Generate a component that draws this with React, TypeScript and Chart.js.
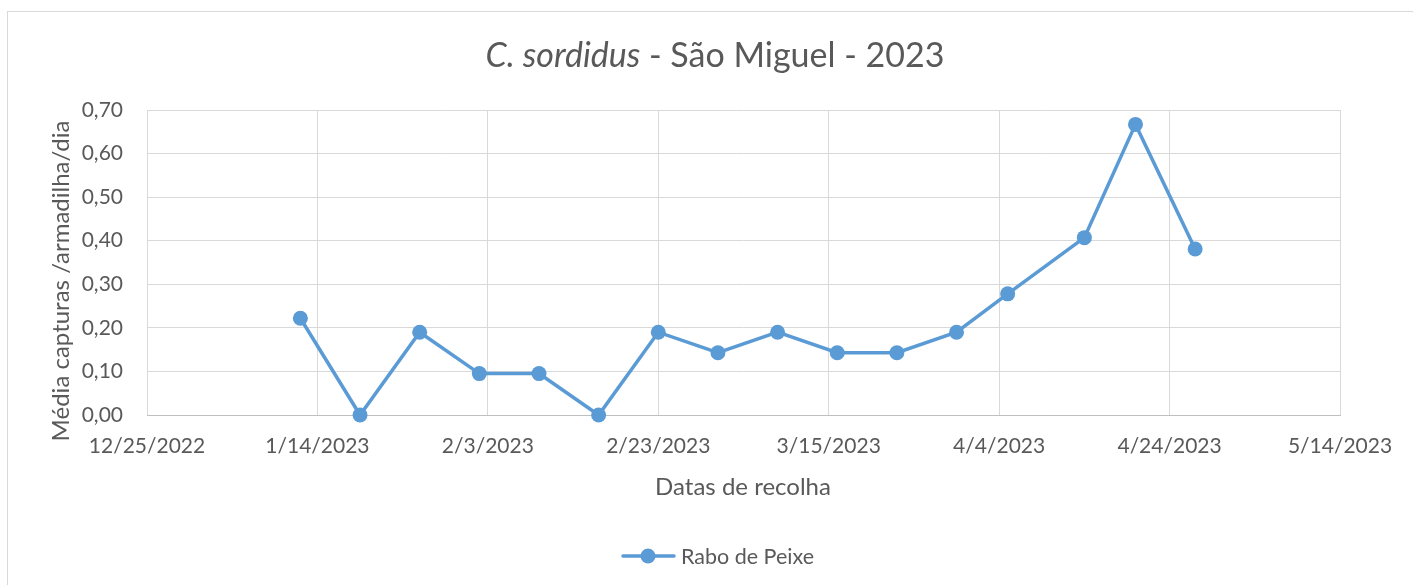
import React, { useEffect, useRef } from "react";
import { Chart, registerables } from "chart.js";

Chart.register(...registerables);

// ---- Data ----
const startDate = "2022-12-25";
const collectionDates = [
  "2023-01-12", "2023-01-19", "2023-01-26", "2023-02-02", "2023-02-09", "2023-02-16",
  "2023-02-23", "2023-03-02", "2023-03-09", "2023-03-16", "2023-03-23", "2023-03-30",
  "2023-04-05", "2023-04-14", "2023-04-20", "2023-04-27",
];
const raboDePeixe = [
  0.222, 0, 0.19, 0.095, 0.095, 0, 0.19, 0.143, 0.19, 0.143, 0.143, 0.19, 0.278, 0.407, 0.667, 0.381,
];
const xTickLabels = [
  "12/25/2022", "1/14/2023", "2/3/2023", "2/23/2023", "3/15/2023", "4/4/2023", "4/24/2023", "5/14/2023",
];
const seriesLabel = "Rabo de Peixe";
const titleItalic = "C. sordidus";
const titleRest = " - São Miguel - 2023";
const yTitle = "Média capturas /armadilha/dia";
const xTitle = "Datas de recolha";

const FONT = "Lato, 'Open Sans', sans-serif";
const TEXT = "#595959";
const BLUE = "#5B9BD5";
const GRID = "#d9d9d9";

const dayOffset = (d: string) =>
  Math.round((Date.parse(d + "T00:00:00Z") - Date.parse(startDate + "T00:00:00Z")) / 86400000);

export default function App() {
  const ref = useRef<HTMLCanvasElement | null>(null);

  useEffect(() => {
    const canvas = ref.current;
    if (!canvas) return;

    const decor = {
      id: "decor",
      beforeDraw(chart: any) {
        const ctx = chart.ctx;
        ctx.save();
        ctx.fillStyle = "#ffffff";
        ctx.fillRect(0, 0, chart.width, chart.height);
        ctx.strokeStyle = GRID;
        ctx.lineWidth = 1;
        ctx.strokeRect(7.5, 11.5, 1500, 700);
        ctx.restore();
      },
      afterDraw(chart: any) {
        const ctx = chart.ctx;
        ctx.save();
        ctx.fillStyle = TEXT;
        ctx.textBaseline = "middle";
        // Title
        const tSize = 34;
        ctx.font = `italic ${tSize}px ${FONT}`;
        const w1 = ctx.measureText(titleItalic).width;
        ctx.font = `${tSize}px ${FONT}`;
        const w2 = ctx.measureText(titleRest).width;
        const tx = 715 - (w1 + w2) / 2;
        ctx.textAlign = "left";
        ctx.font = `italic ${tSize}px ${FONT}`;
        ctx.fillText(titleItalic, tx, 56);
        ctx.font = `${tSize}px ${FONT}`;
        ctx.fillText(titleRest, tx + w1, 56);

        // X axis title
        ctx.font = `24px ${FONT}`;
        ctx.textAlign = "center";
        ctx.fillText(xTitle, 743, 487);

        // Y axis title
        ctx.save();
        ctx.translate(61, 281);
        ctx.rotate(-Math.PI / 2);
        ctx.fillText(yTitle, 0, 0);
        ctx.restore();

        // Legend
        ctx.strokeStyle = BLUE;
        ctx.lineWidth = 3.5;
        ctx.lineCap = "round";
        ctx.beginPath();
        ctx.moveTo(623, 556);
        ctx.lineTo(674, 556);
        ctx.stroke();
        ctx.fillStyle = BLUE;
        ctx.beginPath();
        ctx.arc(648, 556, 7.5, 0, Math.PI * 2);
        ctx.fill();
        ctx.fillStyle = TEXT;
        ctx.textAlign = "left";
        ctx.font = `21.5px ${FONT}`;
        ctx.fillText(seriesLabel, 681, 557);
        ctx.restore();
      },
    };

    const chart = new Chart(canvas, {
      type: "line",
      data: {
        datasets: [
          {
            label: seriesLabel,
            data: collectionDates.map((d, i) => ({ x: dayOffset(d), y: raboDePeixe[i] })),
            borderColor: BLUE,
            backgroundColor: BLUE,
            borderWidth: 3.5,
            pointRadius: 7.5,
            pointBorderWidth: 0,
            pointBackgroundColor: BLUE,
            tension: 0,
            clip: false,
          },
        ],
      },
      options: {
        animation: false,
        responsive: false,
        devicePixelRatio: 1,
        layout: { padding: { top: 110, right: 73, left: 0, bottom: 0 } },
        plugins: {
          legend: { display: false },
          title: { display: false },
          tooltip: { enabled: false },
        },
        scales: {
          x: {
            type: "linear",
            min: 0,
            max: 140,
            afterFit: (s: any) => {
              s.height = 170;
            },
            afterBuildTicks: (s: any) => {
              s.ticks = xTickLabels.map((_, i) => ({ value: i * 20 }));
            },
            ticks: {
              stepSize: 20,
              color: TEXT,
              font: { family: FONT, size: 21 },
              padding: 19,
              maxRotation: 0,
              autoSkip: false,
              callback: (v: any) => xTickLabels[Math.round(Number(v) / 20)] ?? "",
            },
            grid: { color: GRID, lineWidth: 1, drawTicks: false },
            border: { display: true, color: "#bfbfbf", width: 1 },
          },
          y: {
            min: 0,
            max: 0.7,
            afterFit: (s: any) => {
              s.width = 147;
            },
            ticks: {
              stepSize: 0.1,
              color: TEXT,
              font: { family: FONT, size: 21 },
              padding: 24,
              callback: (v: any) => Number(v).toFixed(2).replace(".", ","),
            },
            grid: { color: GRID, lineWidth: 1, drawTicks: false },
            border: { display: false },
          },
        },
      },
      plugins: [decor],
    });

    return () => chart.destroy();
  }, []);

  return (
    <div style={{ position: "fixed", left: 0, top: 0, width: 1413, height: 585, background: "#fff" }}>
      <canvas ref={ref} width={1413} height={585} style={{ display: "block" }} />
    </div>
  );
}
